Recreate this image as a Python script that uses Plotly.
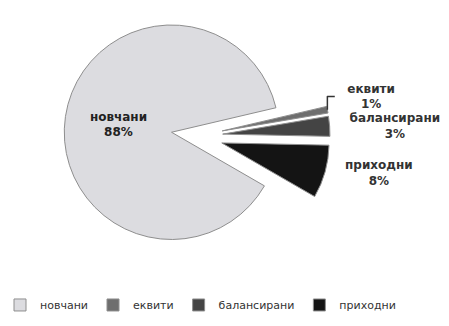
import plotly.graph_objects as go

# Fund categories and their share of assets (%)
categories = ["новчани", "еквити", "балансирани", "приходни"]
shares = [88, 1, 3, 8]
colors = ["#dcdce0", "#6e6e6e", "#444444", "#141414"]
pulls = [0.24, 0.24, 0.24, 0.24]
positions = ["inside", "outside", "outside", "outside"]

# outside labels sit a little away from the exploded wedges
pad = "\u00a0" * 3
templates = [
    "%{label}<br>%{percent:.0%}",
    pad + "%{label}<br>" + pad + "%{percent:.0%}",
    pad + "%{label}<br>" + pad + "%{percent:.0%}",
    pad + "%{label}<br>" + pad + "%{percent:.0%}",
]

W, H = 449, 326

fig = go.Figure(
    go.Pie(
        labels=categories,
        values=shares,
        sort=False,
        direction="clockwise",
        rotation=120,
        pull=pulls,
        marker=dict(colors=colors, line=dict(color="#8e8e8e", width=1)),
        texttemplate=templates,
        textposition=positions,
        insidetextorientation="horizontal",
        insidetextfont=dict(color="#222222", size=12, family="DejaVu Sans", weight="bold"),
        outsidetextfont=dict(color="#333333", size=12, family="DejaVu Sans", weight="bold"),
        hoverinfo="label+percent",
        domain=dict(x=[(197 - 133) / W, (197 + 133) / W], y=[1 - 269 / H, 1 - 3 / H]),
    )
)

fig.update_layout(
    width=W,
    height=H,
    margin=dict(l=0, r=0, t=0, b=0, autoexpand=False),
    paper_bgcolor="white",
    plot_bgcolor="white",
    font=dict(family="DejaVu Sans", color="#333333"),
    showlegend=True,
    legend=dict(
        orientation="h",
        x=0.0,
        xanchor="left",
        y=0.02,
        yanchor="bottom",
        itemwidth=30,
        font=dict(size=11, color="#333333"),
        traceorder="normal",
    ),
)

fig.write_html("out.html")
